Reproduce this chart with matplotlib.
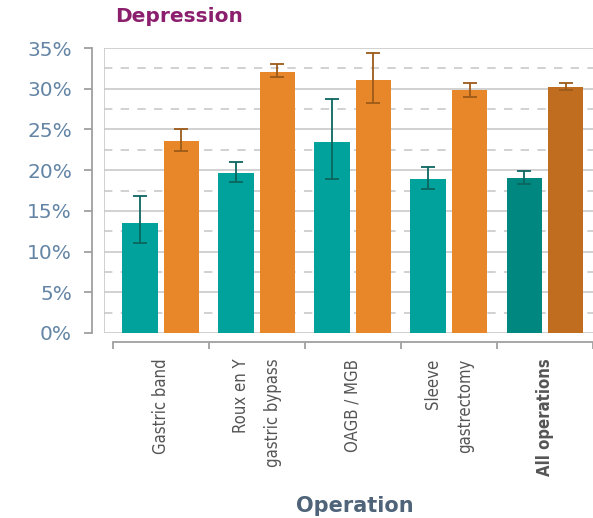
import matplotlib as mpl

mpl.use("Agg")

import matplotlib.pyplot as plt
import numpy as np
from matplotlib.lines import Line2D

# data (percent)
operations = ["Gastric band", "Roux en Y\ngastric bypass", "OAGB / MGB",
              "Sleeve\ngastrectomy", "All operations"]
teal_vals = [13.5, 19.7, 23.4, 18.9, 19.0]
teal_lo = [11.1, 18.5, 18.9, 17.7, 18.3]
teal_hi = [16.8, 21.0, 28.7, 20.4, 19.9]
orange_vals = [23.6, 32.1, 31.1, 29.8, 30.2]
orange_lo = [22.4, 31.5, 28.3, 29.0, 29.8]
orange_hi = [25.1, 33.0, 34.4, 30.7, 30.7]

yticks = [0, 5, 10, 15, 20, 25, 30, 35]

TEAL = ["#00A29B"] * 4 + ["#00877F"]
ORANGE = ["#E8862A"] * 4 + ["#C16D20"]
TEAL_ERR = "#0C6660"
ORANGE_ERR = "#9C5A19"
GRID = "#c9c9c9"
TICKTXT = "#6485A5"

fig = plt.figure(figsize=(5.93, 5.18), dpi=100)
ax = fig.add_axes([104 / 593, 1 - 333 / 518, 1 - 104 / 593, (333 - 48) / 518])

x = np.arange(len(operations))
w = 0.37
off = 0.215
teal_err = [np.array(teal_vals) - np.array(teal_lo), np.array(teal_hi) - np.array(teal_vals)]
orange_err = [np.array(orange_vals) - np.array(orange_lo), np.array(orange_hi) - np.array(orange_vals)]

ax.bar(x - off, teal_vals, width=w, color=TEAL, zorder=3)
ax.bar(x + off, orange_vals, width=w, color=ORANGE, zorder=3)
ax.errorbar(x - off, teal_vals, yerr=teal_err, fmt="none", ecolor=TEAL_ERR,
            elinewidth=1.3, capsize=5, capthick=1.3, zorder=4)
ax.errorbar(x + off, orange_vals, yerr=orange_err, fmt="none", ecolor=ORANGE_ERR,
            elinewidth=1.3, capsize=5, capthick=1.3, zorder=4)

ax.set_xlim(-0.59, 4.45)
ax.set_ylim(0, 35)

# gridlines: solid at every 5%, dashed in between
for v in yticks:
    ax.axhline(v, color=GRID, lw=1.2, zorder=1)
for v in np.arange(2.5, 35, 5):
    ax.axhline(v, color=GRID, lw=1.2, ls=(0, (5, 5)), zorder=1)
ax.add_line(Line2D([0, 0], [0, 1], transform=ax.transAxes, color=GRID, lw=1.2, zorder=1))

for s in ["top", "right"]:
    ax.spines[s].set_visible(False)
ax.spines["left"].set_position(("outward", 9))
ax.spines["left"].set_color("#a0a0a0")
ax.spines["left"].set_linewidth(1.3)
ax.spines["bottom"].set_position(("outward", 6.5))
ax.spines["bottom"].set_color("#a0a0a0")
ax.spines["bottom"].set_linewidth(1.3)
ax.spines["bottom"].set_bounds(-0.5, 4.5)

ax.set_yticks(yticks)
ax.set_yticklabels([f"{v}%" for v in yticks], fontsize=14.5, color=TICKTXT,
                   family="DejaVu Sans")
ax.tick_params(axis="y", length=6, width=1.3, color="#a0a0a0", pad=8)

ax.set_xticks(np.arange(-0.5, 5, 1.0))
ax.set_xticklabels([])
ax.tick_params(axis="x", which="major", length=5, width=1.3, color="#a0a0a0", direction="out")
ax.set_xticks(x, minor=True)
ax.set_xticklabels(operations, minor=True, rotation=90, va="top", ha="center",
                   multialignment="right", linespacing=2.0, fontsize=12,
                   fontstretch="condensed", color="#555555", family="DejaVu Sans")
ax.tick_params(axis="x", which="minor", length=0, pad=12)
for lbl in ax.get_xticklabels(minor=True):
    if lbl.get_text() == "All operations":
        lbl.set_fontweight("bold")

fig.text(115 / 593, 1 - 16 / 518, "Depression", fontsize=14.5, fontweight="bold",
         color="#8B1F6E", ha="left", va="center", family="DejaVu Sans")
fig.text(355 / 593, 1 - 506 / 518, "Operation", fontsize=15, fontweight="bold",
         color="#4F6479", ha="center", va="center", family="DejaVu Sans")

fig.savefig("out.png", dpi=100)
